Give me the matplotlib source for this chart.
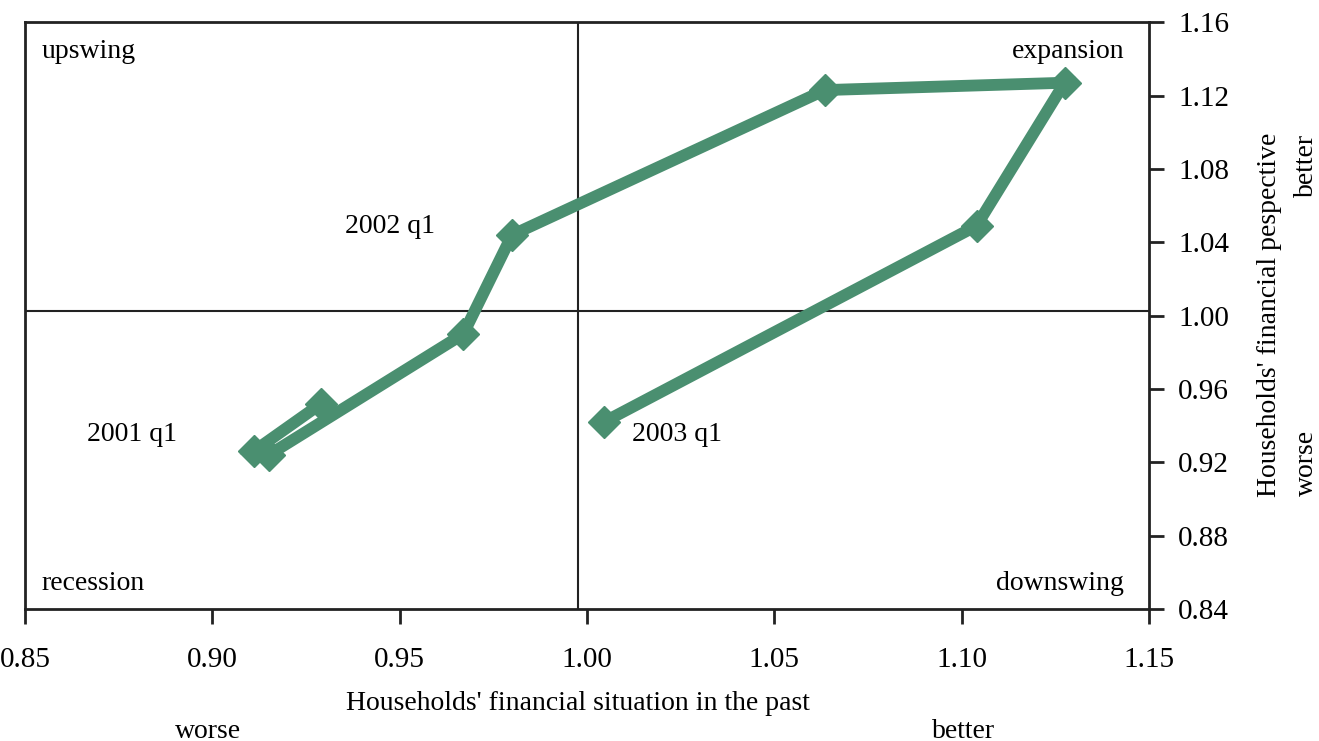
import matplotlib.pyplot as plt

plt.rcParams['font.family'] = ['Liberation Serif', 'DejaVu Serif']

# quarterly path, 2000 q4 .. 2003 q1
past = [0.929, 0.911, 0.915, 0.967, 0.980, 1.0635, 1.1275, 1.104, 1.0045]
future = [0.952, 0.926, 0.924, 0.990, 1.044, 1.123, 1.127, 1.049, 0.942]

x_mean = 0.9975
y_mean = 1.0025

x_ticks = [0.85, 0.90, 0.95, 1.00, 1.05, 1.10, 1.15]
y_ticks = [0.84, 0.88, 0.92, 0.96, 1.00, 1.04, 1.08, 1.12, 1.16]

year_labels = ['2001 q1', '2002 q1', '2003 q1']
year_x = [0.8786, 0.9474, 1.012]
year_y = [0.935, 1.0488, 0.935]

green = '#4a8f70'
fs = 20

fig = plt.figure(figsize=(13.19, 7.41), dpi=100)
ax = fig.add_axes([0.019, 0.178, 0.852, 0.792])

ax.plot(past, future, color=green, lw=8.5, marker='D', ms=16,
        solid_joinstyle='miter', zorder=3)

ax.axvline(x_mean, color='#222222', lw=1.5, zorder=2)
ax.axhline(y_mean, color='#222222', lw=1.5, zorder=2)

ax.set_xlim(0.85, 1.15)
ax.set_ylim(0.84, 1.16)
ax.set_xticks(x_ticks)
ax.set_xticklabels(['%.2f' % v for v in x_ticks])
ax.set_yticks(y_ticks)
ax.set_yticklabels(['%.2f' % v for v in y_ticks])
ax.yaxis.tick_right()
ax.tick_params(axis='both', direction='out', length=11, width=2,
               labelsize=21, color='#222222')
ax.tick_params(axis='x', pad=16)
ax.tick_params(axis='y', pad=10)
for s in ax.spines.values():
    s.set_linewidth(2)
    s.set_color('#222222')

ax.text(0.015, 0.95, 'upswing', transform=ax.transAxes, fontsize=fs,
        ha='left', va='center')
ax.text(0.978, 0.95, 'expansion', transform=ax.transAxes, fontsize=fs,
        ha='right', va='center')
ax.text(0.015, 0.043, 'recession', transform=ax.transAxes, fontsize=fs,
        ha='left', va='center')
ax.text(0.978, 0.043, 'downswing', transform=ax.transAxes, fontsize=fs,
        ha='right', va='center')

for lab, xx, yy in zip(year_labels, year_x, year_y):
    ha = 'left' if lab == '2003 q1' else 'center'
    ax.text(xx, yy, lab, fontsize=fs, ha=ha, va='center')

fig.text(578 / 1319, 1 - 703 / 741, "Households' financial situation in the past",
         fontsize=fs, ha='center', va='center')
fig.text(208 / 1319, 1 - 731 / 741, 'worse', fontsize=fs, ha='center', va='center')
fig.text(964 / 1319, 1 - 731 / 741, 'better', fontsize=fs, ha='center', va='center')

fig.text(1270 / 1319, 1 - 315 / 741, "Households' financial pespective",
         fontsize=fs, ha='center', va='center', rotation=90)
fig.text(1306 / 1319, 1 - 165 / 741, 'better', fontsize=fs, ha='center',
         va='center', rotation=90)
fig.text(1306 / 1319, 1 - 463 / 741, 'worse', fontsize=fs, ha='center',
         va='center', rotation=90)

fig.savefig('out.png', dpi=100)
